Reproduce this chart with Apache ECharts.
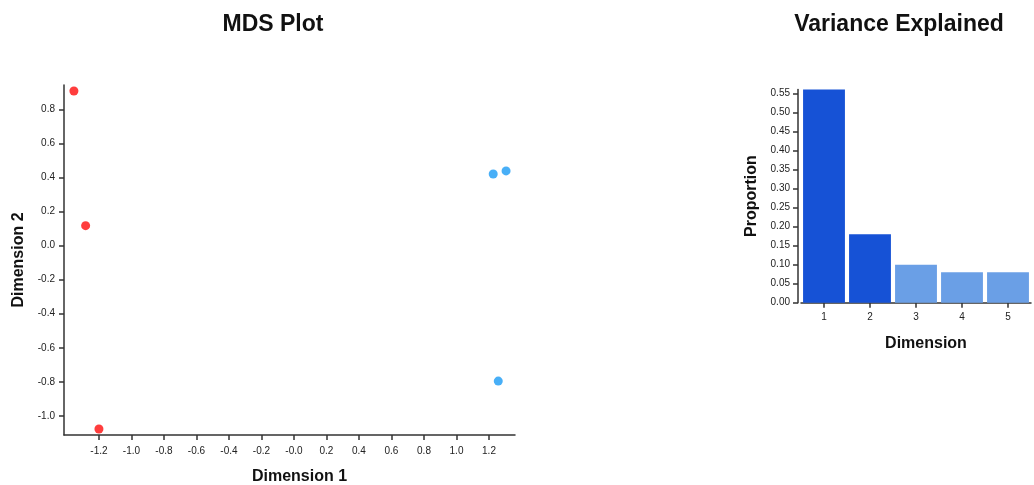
<!DOCTYPE html>
<html>
<head>
<meta charset="utf-8">
<script src="https://cdn.jsdelivr.net/npm/echarts@6/dist/echarts.min.js"></script>
<style>
  html, body { margin: 0; padding: 0; background: #fff; }
  #chart { width: 1034px; height: 485px; }
</style>
</head>
<body>
<div id="chart"></div>
<script>
// MDS coordinates for the two sample groups
const redX = [-1.354, -1.282, -1.200];
const redY = [0.910, 0.118, -1.078];
const blueX = [1.226, 1.305, 1.257];
const blueY = [0.422, 0.440, -0.796];

// Tick positions and their printed labels
const mdsXTicks = [-1.2, -1.0, -0.8, -0.6, -0.4, -0.2, 0.0, 0.2, 0.4, 0.6, 0.8, 1.0, 1.2];
const mdsXLabels = ['-1.2', '-1.0', '-0.8', '-0.6', '-0.4', '-0.2', '-0.0', '0.2', '0.4', '0.6', '0.8', '1.0', '1.2'];
const mdsYTicks = [-1.0, -0.8, -0.6, -0.4, -0.2, 0.0, 0.2, 0.4, 0.6, 0.8];
const mdsYLabels = ['-1.0', '-0.8', '-0.6', '-0.4', '-0.2', '0.0', '0.2', '0.4', '0.6', '0.8'];

// Variance explained per dimension
const dimensions = ['1', '2', '3', '4', '5'];
const proportions = [0.56, 0.18, 0.10, 0.08, 0.08];
const selectedDims = [true, true, false, false, false];
const propTicks = [0, 0.05, 0.10, 0.15, 0.20, 0.25, 0.30, 0.35, 0.40, 0.45, 0.50, 0.55];

const FONT = '"Liberation Sans", Arial, sans-serif';
const AXIS_COLOR = '#333';
const DARK_BLUE = '#1652d6';
const LIGHT_BLUE = '#6a9fe6';

function labelFor(ticks, labels) {
  return v => {
    const i = ticks.findIndex(t => Math.abs(t - v) < 1e-9);
    return i >= 0 ? labels[i] : '';
  };
}

const axisLine = { show: true, onZero: false, lineStyle: { color: AXIS_COLOR, width: 1.5 } };
const axisTick = { show: true, length: 5, lineStyle: { color: AXIS_COLOR, width: 1.5 } };
const tickText = { fontFamily: FONT, fontSize: 10, color: '#222' };
const nameText = { fontFamily: FONT, fontSize: 16, fontWeight: 'bold', color: '#111' };

const chart = echarts.init(document.getElementById('chart'), null, { renderer: 'canvas' });

chart.setOption({
  animation: false,
  backgroundColor: '#ffffff',
  title: [
    { text: 'MDS Plot', left: 268, top: 8, textAlign: 'center',
      textStyle: { fontFamily: FONT, fontSize: 23, fontWeight: 'bold', color: '#111' } },
    { text: 'Variance Explained', left: 894, top: 8, textAlign: 'center',
      textStyle: { fontFamily: FONT, fontSize: 23, fontWeight: 'bold', color: '#111' } }
  ],
  grid: [
    { left: 64, top: 85, width: 451, height: 350, outerBoundsMode: 'none', containLabel: false },
    { left: 801, top: 89.5, width: 230, height: 213.2, outerBoundsMode: 'none', containLabel: false }
  ],
  xAxis: [
    {
      gridIndex: 0, type: 'value', min: -1.415, max: 1.36,
      name: 'Dimension 1', nameLocation: 'middle', nameGap: 34,
      nameTextStyle: Object.assign({ padding: [0, 0, 0, 20] }, nameText),
      splitLine: { show: false },
      axisLine: axisLine,
      axisTick: Object.assign({ customValues: mdsXTicks }, axisTick),
      axisLabel: Object.assign({ customValues: mdsXTicks, margin: 11,
        formatter: labelFor(mdsXTicks, mdsXLabels) }, tickText)
    },
    {
      gridIndex: 1, type: 'category', data: dimensions,
      name: 'Dimension', nameLocation: 'middle', nameGap: 33,
      nameTextStyle: Object.assign({ padding: [0, 0, 0, 20] }, nameText),
      axisLine: axisLine,
      axisTick: Object.assign({ alignWithLabel: true }, axisTick),
      axisLabel: Object.assign({ margin: 10 }, tickText)
    }
  ],
  yAxis: [
    {
      gridIndex: 0, type: 'value', min: -1.113, max: 0.945,
      name: 'Dimension 2', nameLocation: 'middle', nameGap: 37, nameRotate: 90, nameTextStyle: nameText,
      splitLine: { show: false },
      axisLine: axisLine,
      axisTick: Object.assign({ customValues: mdsYTicks }, axisTick),
      axisLabel: Object.assign({ customValues: mdsYTicks, margin: 9,
        formatter: labelFor(mdsYTicks, mdsYLabels) }, tickText)
    },
    {
      gridIndex: 1, type: 'value', min: 0, max: 0.56, offset: 3,
      name: 'Proportion', nameLocation: 'middle', nameGap: 38, nameRotate: 90, nameTextStyle: nameText,
      splitLine: { show: false },
      axisLine: axisLine,
      axisTick: Object.assign({ customValues: propTicks }, axisTick),
      axisLabel: Object.assign({ customValues: propTicks, margin: 8,
        formatter: v => v.toFixed(2) }, tickText)
    }
  ],
  series: [
    {
      type: 'scatter', xAxisIndex: 0, yAxisIndex: 0, symbolSize: 9,
      itemStyle: { color: '#ff0d0d' },
      data: redX.map((x, i) => [x, redY[i]])
    },
    {
      type: 'scatter', xAxisIndex: 0, yAxisIndex: 0, symbolSize: 9,
      itemStyle: { color: '#1a9bf5' },
      data: blueX.map((x, i) => [x, blueY[i]])
    },
    {
      type: 'bar', xAxisIndex: 1, yAxisIndex: 1, barCategoryGap: '9%',
      data: proportions.map((v, i) => ({
        value: v,
        itemStyle: { color: selectedDims[i] ? DARK_BLUE : LIGHT_BLUE }
      }))
    }
  ]
});
</script>
</body>
</html>
